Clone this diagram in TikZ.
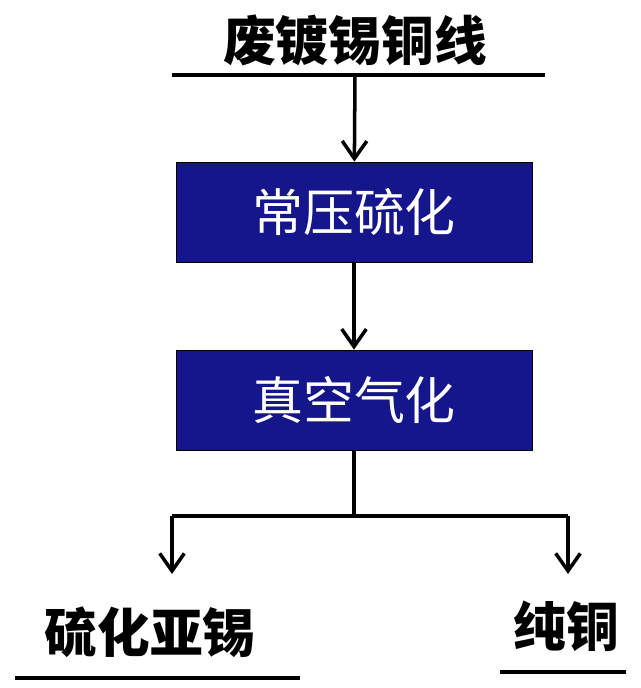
\documentclass[tikz,border=0pt]{standalone}
\usepackage{fontspec}
\newfontfamily\cjk{Noto Sans CJK SC}
\usepackage{tikz}
\usetikzlibrary{arrows.meta}

\begin{document}
\begin{tikzpicture}[x=0.02cm,y=-0.02cm]

\tikzset{step box/.style = {shape=rectangle,draw=black,fill=boxblue,minimum width=7.12cm,minimum height=2cm,text=white,font=\cjk\fontsize{29}{33}\selectfont}}
\tikzset{label text/.style = {font=\cjk\bfseries\fontsize{30}{34}\selectfont}}
\tikzset{edge/.style = {-{Straight Barb[length=10pt,width=14pt,line width=2pt]},line width=2pt}}
\tikzset{rule/.style = {line width=2pt}}
\definecolor{boxblue}{RGB}{22,22,140}

\useasboundingbox (0,0) rectangle (640,688);

\node[label text] (raw) at (355,40) {废镀锡铜线};
\coordinate (rawl) at (172,75);
\coordinate (rawr) at (545,75);
\coordinate (rawm) at (355,75);

\node[step box] (s1) at (354,212) {常压硫化};
\node[step box] (s2) at (354,400) {真空气化};

\coordinate (split) at (354,516);
\coordinate (sl) at (172,516);
\coordinate (sr) at (568,516);

\node[label text] (tin) at (150,632) {硫化亚锡};
\node[label text] (cu) at (566,626) {纯铜};
\coordinate (tinl) at (15,678);
\coordinate (tinr) at (300,678);
\coordinate (cul) at (500,672);
\coordinate (cur) at (626,672);

\draw[rule] (rawl) -- (rawr);
\draw[edge] (rawm) -- (s1);
\draw[edge] (s1) -- (s2);
\draw[rule] (s2) -- (split);
\draw[rule] (sl) -- (sr);
\draw[edge] (sl) -- ++(0,58);
\draw[edge] (sr) -- ++(0,58);
\draw[rule] (tinl) -- (tinr);
\draw[rule] (cul) -- (cur);

\end{tikzpicture}
\end{document}
